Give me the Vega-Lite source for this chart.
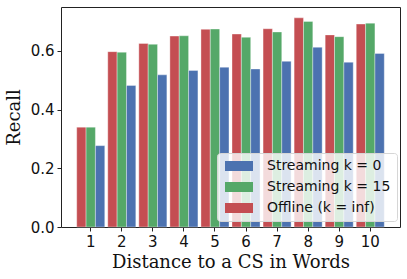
{
  "$schema": "https://vega.github.io/schema/vega-lite/v6.json",
  "width": 339,
  "height": 220,
  "autosize": {"type": "none"},
  "padding": {"left": 61, "top": 7, "right": 7, "bottom": 52},
  "config": {
    "view": {"stroke": "#222222", "strokeWidth": 1},
    "axis": {"grid": false, "domainColor": "#222222", "tickColor": "#222222", "labelColor": "#111111", "titleColor": "#111111", "labelFont": "DejaVu Sans", "titleFont": "DejaVu Serif", "titleFontWeight": "normal", "labelFontSize": 15, "titleFontSize": 18}
  },
  "data": {"values": [
    {"d": 1, "series": "Offline (k = inf)", "recall": 0.340},
    {"d": 1, "series": "Streaming k = 15", "recall": 0.340},
    {"d": 1, "series": "Streaming k = 0", "recall": 0.277},
    {"d": 2, "series": "Offline (k = inf)", "recall": 0.597},
    {"d": 2, "series": "Streaming k = 15", "recall": 0.595},
    {"d": 2, "series": "Streaming k = 0", "recall": 0.482},
    {"d": 3, "series": "Offline (k = inf)", "recall": 0.625},
    {"d": 3, "series": "Streaming k = 15", "recall": 0.622},
    {"d": 3, "series": "Streaming k = 0", "recall": 0.518},
    {"d": 4, "series": "Offline (k = inf)", "recall": 0.650},
    {"d": 4, "series": "Streaming k = 15", "recall": 0.651},
    {"d": 4, "series": "Streaming k = 0", "recall": 0.533},
    {"d": 5, "series": "Offline (k = inf)", "recall": 0.673},
    {"d": 5, "series": "Streaming k = 15", "recall": 0.674},
    {"d": 5, "series": "Streaming k = 0", "recall": 0.544},
    {"d": 6, "series": "Offline (k = inf)", "recall": 0.657},
    {"d": 6, "series": "Streaming k = 15", "recall": 0.646},
    {"d": 6, "series": "Streaming k = 0", "recall": 0.538},
    {"d": 7, "series": "Offline (k = inf)", "recall": 0.675},
    {"d": 7, "series": "Streaming k = 15", "recall": 0.664},
    {"d": 7, "series": "Streaming k = 0", "recall": 0.564},
    {"d": 8, "series": "Offline (k = inf)", "recall": 0.712},
    {"d": 8, "series": "Streaming k = 15", "recall": 0.700},
    {"d": 8, "series": "Streaming k = 0", "recall": 0.612},
    {"d": 9, "series": "Offline (k = inf)", "recall": 0.654},
    {"d": 9, "series": "Streaming k = 15", "recall": 0.648},
    {"d": 9, "series": "Streaming k = 0", "recall": 0.561},
    {"d": 10, "series": "Offline (k = inf)", "recall": 0.691},
    {"d": 10, "series": "Streaming k = 15", "recall": 0.694},
    {"d": 10, "series": "Streaming k = 0", "recall": 0.591}
  ]},
  "mark": {"type": "bar", "stroke": "white", "strokeWidth": 0.6, "strokeOpacity": 0.6},
  "encoding": {
    "x": {
      "field": "d", "type": "ordinal",
      "scale": {"paddingInner": 0.097, "paddingOuter": 0.506},
      "axis": {"title": "Distance to a CS in Words", "labelAngle": 0, "tickSize": 4, "labelPadding": 3, "titlePadding": 4, "domain": false}
    },
    "xOffset": {
      "field": "series", "type": "nominal",
      "scale": {"domain": ["Offline (k = inf)", "Streaming k = 15", "Streaming k = 0"], "paddingInner": 0, "paddingOuter": 0}
    },
    "y": {
      "field": "recall", "type": "quantitative",
      "scale": {"domain": [0, 0.749], "nice": false, "zero": true},
      "axis": {"title": "Recall", "values": [0, 0.2, 0.4, 0.6], "format": ".1f", "tickSize": 4, "labelPadding": 3, "titlePadding": 7, "domain": false}
    },
    "color": {
      "field": "series", "type": "nominal",
      "scale": {"domain": ["Streaming k = 0", "Streaming k = 15", "Offline (k = inf)"], "range": ["#4C72B0", "#55A868", "#C44E52"]},
      "legend": {
        "title": null, "orient": "none", "legendX": 156, "legendY": 146,
        "symbolType": "M-1,-1H4.6V1H-1Z", "symbolSize": 100, "symbolStrokeWidth": 0, "symbolOpacity": 1,
        "labelFont": "DejaVu Sans", "labelFontSize": 14, "labelColor": "#111111", "labelOffset": 30, "labelLimit": 300,
        "rowPadding": 7, "padding": 6,
        "fillColor": "rgba(255,255,255,0.8)", "strokeColor": "#d6d6d6", "cornerRadius": 3
      }
    }
  }
}
